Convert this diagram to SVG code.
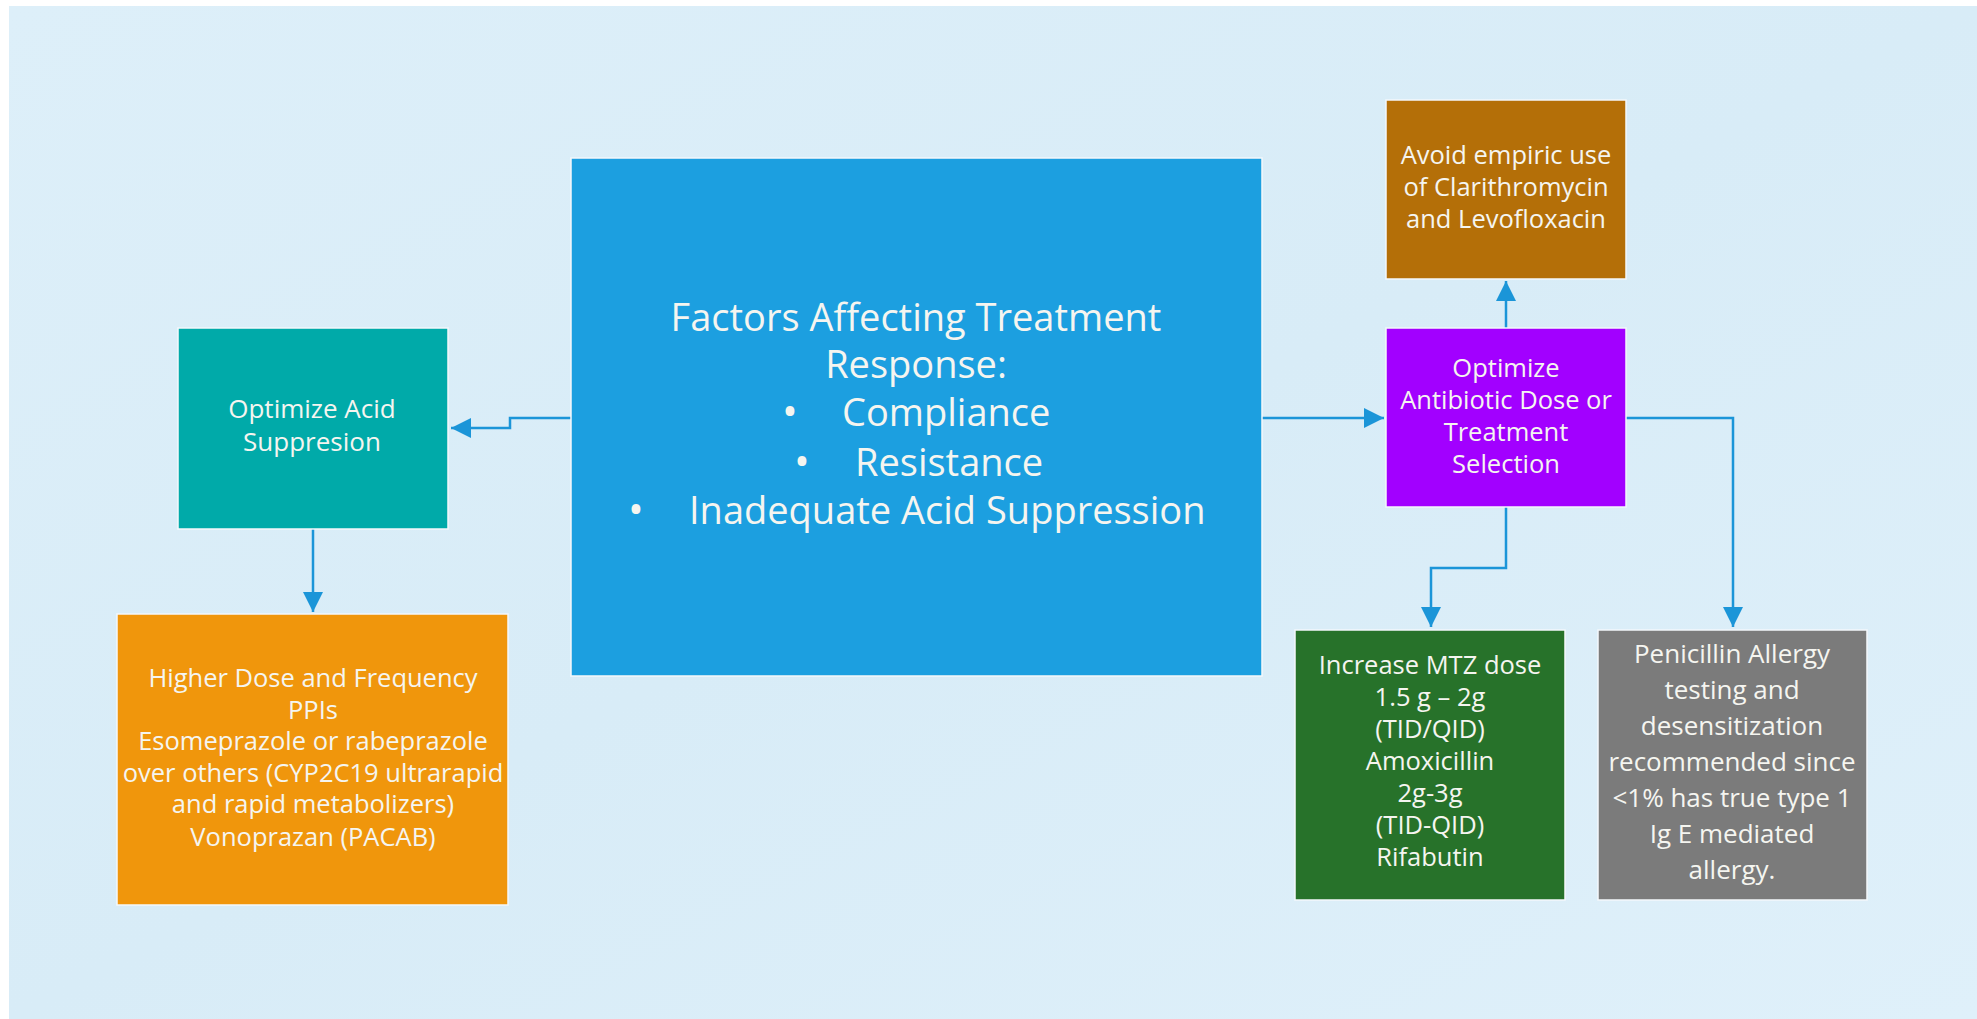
<svg xmlns="http://www.w3.org/2000/svg" width="1977" height="1019" viewBox="0 0 1977 1019">
<style>
  .box { stroke: #f4f8fb; stroke-width: 1.5; }
  .t { font-family: "Open Sans", "Noto Sans", sans-serif; fill: #f5f5f0; text-anchor: middle; }
  .ts { font-family: "Open Sans", "Noto Sans", sans-serif; fill: #f5f5f0; text-anchor: start; font-size: 38px; }
  .bul { font-size: 42px; }
  .big { font-size: 38px; }
  .sm { font-size: 25.5px; }
  .md { font-size: 26px; }
  .conn { fill: none; stroke: #1b95d8; stroke-width: 2.5; }
</style>
<defs>
  <linearGradient id="bg" x1="0" y1="0" x2="1" y2="1">
    <stop offset="0" stop-color="#ddeff9"/>
    <stop offset="0.5" stop-color="#d8ecf7"/>
    <stop offset="1" stop-color="#dff0fa"/>
  </linearGradient>
  <marker id="arr" viewBox="0 0 10 10" refX="10" refY="5" markerWidth="9" markerHeight="8" markerUnits="strokeWidth" orient="auto">
    <path d="M0,0 L10,5 L0,10 Z" fill="#1b95d8"/>
  </marker>
</defs>
<rect x="0" y="0" width="1977" height="1019" fill="#ffffff"/>
<rect x="9" y="6" width="1968" height="1013" fill="url(#bg)"/>

<g id="connectors">
  <path class="conn" d="M571,418 H510 V428 H451" marker-end="url(#arr)"/>
  <path class="conn" d="M313,529 V612" marker-end="url(#arr)"/>
  <path class="conn" d="M1262,418 H1384" marker-end="url(#arr)"/>
  <path class="conn" d="M1506,328 V281" marker-end="url(#arr)"/>
  <path class="conn" d="M1506,507 V568 H1431 V627" marker-end="url(#arr)"/>
  <path class="conn" d="M1625,418 H1733 V627" marker-end="url(#arr)"/>
</g>

<g id="center">
  <rect class="box" x="571" y="158" width="691" height="518" fill="#1c9fe0"/>
  <text class="t big" x="916" y="331">Factors Affecting Treatment</text>
  <text class="t big" x="916" y="378">Response:</text>
  <text class="ts" y="426"><tspan class="bul" x="782">•</tspan><tspan x="842">Compliance</tspan></text>
  <text class="ts" y="476"><tspan class="bul" x="794">•</tspan><tspan x="855">Resistance</tspan></text>
  <text class="ts" y="524"><tspan class="bul" x="628">•</tspan><tspan x="689">Inadequate Acid Suppression</tspan></text>
</g>

<g id="acid">
  <rect class="box" x="178" y="328" width="270" height="201" fill="#00aaa9"/>
  <text class="t md" x="312" y="418">Optimize Acid</text>
  <text class="t md" x="312" y="451">Suppresion</text>
</g>

<g id="ppi">
  <rect class="box" x="117" y="614" width="391" height="291" fill="#f0960c"/>
  <text class="t sm" x="313" y="687">Higher Dose and Frequency</text>
  <text class="t sm" x="313" y="719">PPIs</text>
  <text class="t sm" x="313" y="750">Esomeprazole or rabeprazole</text>
  <text class="t sm" x="313" y="782">over others (CYP2C19 ultrarapid</text>
  <text class="t sm" x="313" y="813">and rapid metabolizers)</text>
  <text class="t sm" x="313" y="846">Vonoprazan (PACAB)</text>
</g>

<g id="avoid">
  <rect class="box" x="1386" y="100" width="240" height="179" fill="#b46f08"/>
  <text class="t sm" x="1506" y="164">Avoid empiric use</text>
  <text class="t sm" x="1506" y="196">of Clarithromycin</text>
  <text class="t sm" x="1506" y="228">and Levofloxacin</text>
</g>

<g id="antibiotic">
  <rect class="box" x="1386" y="328" width="240" height="179" fill="#a200ff"/>
  <text class="t sm" x="1506" y="377">Optimize</text>
  <text class="t sm" x="1506" y="409">Antibiotic Dose or</text>
  <text class="t sm" x="1506" y="441">Treatment</text>
  <text class="t sm" x="1506" y="473">Selection</text>
</g>

<g id="mtz">
  <rect class="box" x="1295" y="630" width="270" height="270" fill="#27722a"/>
  <text class="t sm" x="1430" y="674">Increase MTZ dose</text>
  <text class="t sm" x="1430" y="706">1.5 g – 2g</text>
  <text class="t sm" x="1430" y="738">(TID/QID)</text>
  <text class="t sm" x="1430" y="770">Amoxicillin</text>
  <text class="t sm" x="1430" y="802">2g-3g</text>
  <text class="t sm" x="1430" y="834">(TID-QID)</text>
  <text class="t sm" x="1430" y="866">Rifabutin</text>
</g>

<g id="allergy">
  <rect class="box" x="1598" y="630" width="269" height="270" fill="#7b7b7b"/>
  <text class="t md" x="1732" y="663">Penicillin Allergy</text>
  <text class="t md" x="1732" y="699">testing and</text>
  <text class="t md" x="1732" y="735">desensitization</text>
  <text class="t md" x="1732" y="771">recommended since</text>
  <text class="t md" x="1732" y="807">&lt;1% has true type 1</text>
  <text class="t md" x="1732" y="843">Ig E mediated</text>
  <text class="t md" x="1732" y="879">allergy.</text>
</g>
</svg>
